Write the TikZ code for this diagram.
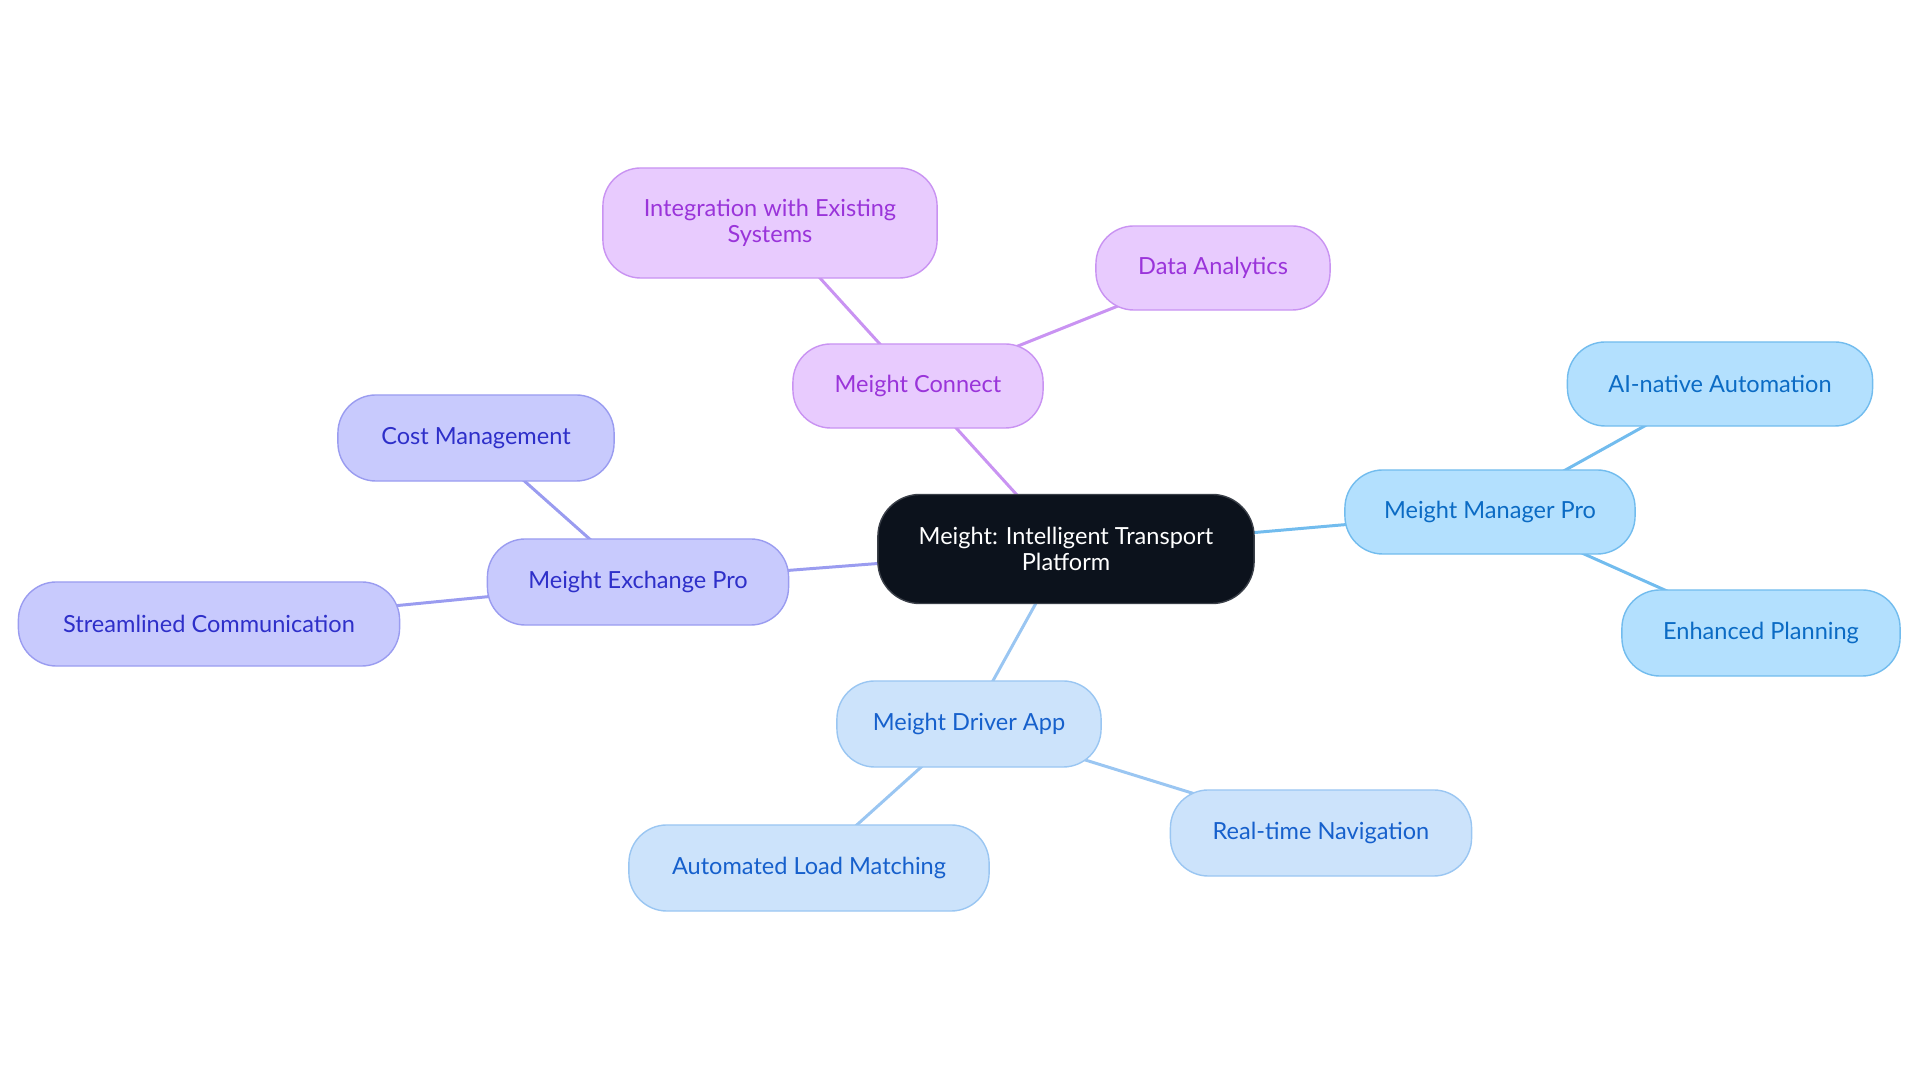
\documentclass[tikz,border=0pt]{standalone}
\usepackage{fontspec}
\setmainfont{Lato}
\usepackage{xcolor}
\usepackage{tikz}
\usetikzlibrary{backgrounds}

\definecolor{rootfill}{HTML}{0C121C}
\definecolor{rootline}{HTML}{3A3F48}
\definecolor{connectfill}{HTML}{E8CBFE}
\definecolor{connectline}{HTML}{C993F2}
\definecolor{connecttext}{HTML}{9A34DA}
\definecolor{exchangefill}{HTML}{C8CAFD}
\definecolor{exchangeline}{HTML}{9A9CF0}
\definecolor{exchangetext}{HTML}{2E2FC9}
\definecolor{managerfill}{HTML}{B3E0FE}
\definecolor{managerline}{HTML}{72BCEE}
\definecolor{managertext}{HTML}{0B6BC4}
\definecolor{driverfill}{HTML}{CCE3FB}
\definecolor{driverline}{HTML}{9AC6F2}
\definecolor{drivertext}{HTML}{1660CC}

\begin{document}
\begin{tikzpicture}[x=0.01cm, y=-0.01cm,
    box/.style={rectangle, draw, line width=0.4pt, rounded corners=0.38cm, align=center,
        font=\fontsize{6.7}{7.2}\selectfont, minimum height=0.84cm, inner sep=2pt},
    root/.style={box, fill=rootfill, draw=rootline, text=white, minimum width=3.76cm, minimum height=1.09cm, rounded corners=0.42cm},
    connect/.style={box, fill=connectfill, draw=connectline, text=connecttext},
    exchange/.style={box, fill=exchangefill, draw=exchangeline, text=exchangetext},
    manager/.style={box, fill=managerfill, draw=managerline, text=managertext},
    driver/.style={box, fill=driverfill, draw=driverline, text=drivertext},
    link/.style={line width=0.85pt}]

    \useasboundingbox (0,0) rectangle (1920,1083);

    \node[root] (root) at (1066,549) {Meight: Intelligent Transport\\Platform};

    \node[connect, minimum width=2.50cm] (connect) at (918,386) {Meight Connect};
    \node[connect, minimum width=3.34cm, minimum height=1.10cm] (integ) at (770,223) {Integration with Existing\\Systems};
    \node[connect, minimum width=2.34cm] (analytics) at (1213,268) {Data Analytics};

    \node[manager, minimum width=2.90cm] (manager) at (1490,512) {Meight Manager Pro};
    \node[manager, minimum width=3.05cm] (ainative) at (1720,384) {AI-native Automation};
    \node[manager, minimum width=2.78cm, minimum height=0.86cm] (planning) at (1761,633) {Enhanced Planning};

    \node[driver, minimum width=2.64cm, minimum height=0.86cm] (driver) at (969,724) {Meight Driver App};
    \node[driver, minimum width=3.01cm, minimum height=0.86cm] (navigation) at (1321,833) {Real-time Navigation};
    \node[driver, minimum width=3.60cm, minimum height=0.86cm] (loadmatch) at (809,868) {Automated Load Matching};

    \node[exchange, minimum width=3.01cm, minimum height=0.86cm] (exchange) at (638,582) {Meight Exchange Pro};
    \node[exchange, minimum width=2.76cm, minimum height=0.86cm] (cost) at (476,438) {Cost Management};
    \node[exchange, minimum width=3.81cm] (comm) at (209,624) {Streamlined Communication};

    % links behind the boxes
    \begin{scope}[on background layer]
    \draw[link, connectline] (root.center) -- (connect.center);
    \draw[link, connectline] (connect.center) -- (integ.center);
    \draw[link, connectline] (connect.center) -- (analytics.center);
    \draw[link, managerline] (root.center) -- (manager.center);
    \draw[link, managerline] (manager.center) -- (ainative.center);
    \draw[link, managerline] (manager.center) -- (planning.center);
    \draw[link, driverline] (root.center) -- (driver.center);
    \draw[link, driverline] (driver.center) -- (navigation.center);
    \draw[link, driverline] (driver.center) -- (loadmatch.center);
    \draw[link, exchangeline] (root.center) -- (exchange.center);
    \draw[link, exchangeline] (exchange.center) -- (cost.center);
    \draw[link, exchangeline] (exchange.center) -- (comm.center);
    \end{scope}
\end{tikzpicture}
\end{document}
